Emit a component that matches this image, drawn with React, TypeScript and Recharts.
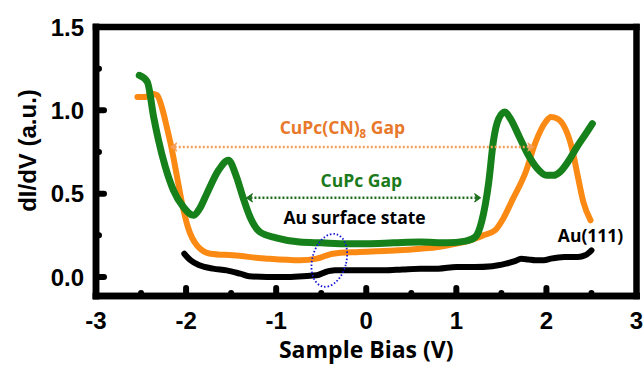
import React from 'react';
import { ComposedChart, Line, XAxis, YAxis, ReferenceLine, ReferenceDot } from 'recharts';

// ---- axes ----
const xTicks = [-3, -2.5, -2, -1.5, -1, -0.5, 0, 0.5, 1, 1.5, 2, 2.5, 3];
const xTickLabels = ['-3', '', '-2', '', '-1', '', '0', '', '1', '', '2', '', '3'];
const yTicks = [0, 0.25, 0.5, 0.75, 1, 1.25, 1.5];
const yTickLabels = ['0.0', '', '0.5', '', '1.0', '', '1.5'];

// ---- CuPc (green) ----
const cupcX = [-2.52, -2.43, -2.36, -2.31, -2.23, -2.14, -2.03, -1.92, -1.85, -1.77, -1.64, -1.53, -1.44, -1.37, -1.29, -1.18, -1.0, -0.74, -0.5, -0.2, 0.0, 0.3, 0.6, 0.9, 1.1, 1.21, 1.28, 1.36, 1.41, 1.47, 1.54, 1.6, 1.7, 1.8, 1.9, 2.0, 2.08, 2.15, 2.25, 2.35, 2.45, 2.51];
const cupcY = [1.21, 1.17, 0.96, 0.83, 0.66, 0.52, 0.42, 0.37, 0.41, 0.5, 0.64, 0.7, 0.6, 0.48, 0.36, 0.27, 0.235, 0.21, 0.205, 0.2, 0.2, 0.205, 0.21, 0.205, 0.215, 0.24, 0.33, 0.57, 0.81, 0.95, 0.99, 0.95, 0.84, 0.73, 0.65, 0.61, 0.61, 0.63, 0.7, 0.79, 0.87, 0.92];

// ---- CuPc(CN)8 (orange) ----
const cnX = [-2.54, -2.45, -2.38, -2.32, -2.27, -2.21, -2.16, -2.1, -2.04, -1.98, -1.88, -1.73, -1.48, -1.1, -0.74, -0.55, -0.37, -0.08, 0.36, 0.6, 0.8, 1.0, 1.15, 1.3, 1.43, 1.52, 1.62, 1.77, 1.88, 1.99, 2.05, 2.12, 2.2, 2.28, 2.35, 2.41, 2.49];
const cnY = [1.08, 1.08, 1.1, 1.09, 1.02, 0.89, 0.77, 0.6, 0.43, 0.3, 0.19, 0.14, 0.13, 0.11, 0.1, 0.11, 0.14, 0.15, 0.16, 0.17, 0.18, 0.2, 0.22, 0.25, 0.28, 0.35, 0.46, 0.63, 0.81, 0.93, 0.96, 0.95, 0.9, 0.78, 0.6, 0.45, 0.34];

// ---- Au(111) (black) ----
const auX = [-2.02, -1.95, -1.85, -1.7, -1.55, -1.4, -1.3, -1.1, -0.9, -0.7, -0.55, -0.45, -0.35, -0.2, 0.0, 0.2, 0.4, 0.6, 0.8, 1.0, 1.2, 1.4, 1.55, 1.65, 1.72, 1.8, 1.88, 1.97, 2.05, 2.2, 2.35, 2.43, 2.5];
const auY = [0.14, 0.1, 0.07, 0.05, 0.04, 0.02, 0.005, 0.0, 0.0, 0.005, 0.01, 0.03, 0.04, 0.04, 0.04, 0.04, 0.045, 0.05, 0.05, 0.06, 0.06, 0.065, 0.08, 0.095, 0.11, 0.105, 0.1, 0.1, 0.11, 0.12, 0.12, 0.13, 0.16];

const zip = (xs: number[], ys: number[]) => xs.map((x, i) => ({ x, y: ys[i] }));
const cupcData = zip(cupcX, cupcY);
const cnData = zip(cnX, cnY);
const auData = zip(auX, auY);

const X_DOMAIN: [number, number] = [-3, 3];
const Y_DOMAIN: [number, number] = [-0.114, 1.5];

// layout
const W = 644;
const H = 365;
const M_TOP = 27;
const M_RIGHT = 7.5;
const Y_AXIS_W = 96;
const X_AXIS_H = 69;
const FRAME_W = 6.5;
const PLOT_W = W - Y_AXIS_W - M_RIGHT;
const PLOT_H = H - M_TOP - X_AXIS_H;

const TICK_FONT = '"Liberation Sans", Arial, sans-serif';
const NOTE_FONT = '"Open Sans", "Noto Sans", sans-serif';
const AXIS_LINE = { stroke: '#000', strokeWidth: FRAME_W, strokeLinecap: 'square' as const };

const XTick = (props: any) => {
  const { x, y, payload } = props;
  const v = payload.value;
  const i = xTicks.findIndex((t) => Math.abs(t - v) < 1e-6);
  const label = i >= 0 ? xTickLabels[i] : '';
  const isLeft = Math.abs(v - X_DOMAIN[0]) < 1e-6;
  const isRight = Math.abs(v - X_DOMAIN[1]) < 1e-6;
  const major = label !== '';
  return (
    <g>
      {!isLeft && !isRight && (
        <line x1={x} x2={x} y1={y} y2={y - (major ? 8 : 3)} stroke="#000" strokeWidth={6} strokeLinecap="round" />
      )}
      {isLeft && (
        <line x1={x} x2={x + PLOT_W} y1={y} y2={y} stroke="#000" strokeWidth={FRAME_W} strokeLinecap="square" />
      )}
      {isRight && (
        <line x1={x} x2={x} y1={y} y2={y - PLOT_H} stroke="#000" strokeWidth={FRAME_W} strokeLinecap="square" />
      )}
      <text x={x} y={y + 33} textAnchor="middle" fontFamily={TICK_FONT} fontWeight={700} fontSize={24} fill="#000">
        {label}
      </text>
    </g>
  );
};

const YTick = (props: any) => {
  const { x, y, payload } = props;
  const v = payload.value;
  const i = yTicks.findIndex((t) => Math.abs(t - v) < 1e-6);
  const label = i >= 0 ? yTickLabels[i] : '';
  const isTop = Math.abs(v - Y_DOMAIN[1]) < 1e-6;
  const major = label !== '';
  return (
    <g>
      {!isTop && (
        <line x1={x} x2={x + (major ? 8 : 3)} y1={y} y2={y} stroke="#000" strokeWidth={6} strokeLinecap="round" />
      )}
      {isTop && (
        <g>
          <line x1={x} x2={x + PLOT_W} y1={y} y2={y} stroke="#000" strokeWidth={FRAME_W} strokeLinecap="square" />
          <line x1={x} x2={x} y1={y} y2={y + PLOT_H} stroke="#000" strokeWidth={FRAME_W} strokeLinecap="square" />
        </g>
      )}
      <text x={x - 12} y={y + 8.5} textAnchor="end" fontFamily={TICK_FONT} fontWeight={700} fontSize={24} fill="#000">
        {label}
      </text>
    </g>
  );
};

const arrowShape = (color: string) => (p: any) => {
  const { x1, y1, x2, y2 } = p;
  const a = 6;
  return (
    <g>
      <line x1={x1 + 4} y1={y1} x2={x2 - 4} y2={y2} stroke={color} strokeWidth={2.5} strokeDasharray="2 2" />
      <path d={`M${x1},${y1} L${x1 + a},${y1 - a * 0.7} L${x1 + a - 2},${y1} L${x1 + a},${y1 + a * 0.7} Z`} fill={color} stroke={color} strokeWidth={1} />
      <path d={`M${x2},${y2} L${x2 - a},${y2 - a * 0.7} L${x2 - a + 2},${y2} L${x2 - a},${y2 + a * 0.7} Z`} fill={color} stroke={color} strokeWidth={1} />
    </g>
  );
};

export default function App() {
  return (
    <div style={{ position: 'absolute', left: 0, top: 0, width: W, height: H, background: '#fff' }}>
      <ComposedChart width={W} height={H} margin={{ top: M_TOP, right: M_RIGHT, bottom: 0, left: 0 }}>
        <XAxis
          dataKey="x"
          type="number"
          domain={X_DOMAIN}
          ticks={xTicks}
          interval={0}
          allowDataOverflow
          height={X_AXIS_H}
          tickSize={0}
          tickMargin={0}
          tickLine={false}
          tick={<XTick />}
          axisLine={AXIS_LINE}
          label={{
            content: (lp: any) => {
              const vb = lp.viewBox || { x: Y_AXIS_W, y: M_TOP + PLOT_H, width: PLOT_W };
              return (
                <text x={vb.x + vb.width / 2} y={vb.y + 62} textAnchor="middle" fontFamily={NOTE_FONT} fontWeight={700} fontSize={23} fill="#000">
                  Sample Bias (V)
                </text>
              );
            },
          }}
        />
        <YAxis
          dataKey="y"
          type="number"
          domain={Y_DOMAIN}
          ticks={yTicks}
          interval={0}
          allowDataOverflow
          width={Y_AXIS_W}
          tickSize={0}
          tickMargin={0}
          tickLine={false}
          tick={<YTick />}
          axisLine={AXIS_LINE}
          label={{
            content: (lp: any) => {
              const vb = lp.viewBox || { x: 0, y: M_TOP, width: Y_AXIS_W, height: PLOT_H };
              const cx = vb.x + 36;
              const cy = vb.y + vb.height / 2 - 11;
              return (
                <text x={cx} y={cy} transform={`rotate(-90 ${cx} ${cy})`} textAnchor="middle" fontFamily={TICK_FONT} fontWeight={700} fontSize={24} fill="#000">
                  dI/dV (a.u.)
                </text>
              );
            },
          }}
        />

        <Line data={auData} dataKey="y" type="monotone" stroke="#000" strokeWidth={6} dot={false} isAnimationActive={false} strokeLinecap="round" strokeLinejoin="round" />
        <Line data={cnData} dataKey="y" type="monotone" stroke="#FB8A15" strokeWidth={6} dot={false} isAnimationActive={false} strokeLinecap="round" strokeLinejoin="round" />
        <Line data={cupcData} dataKey="y" type="monotone" stroke="#16801A" strokeWidth={7} dot={false} isAnimationActive={false} strokeLinecap="round" strokeLinejoin="round" />

        <ReferenceLine segment={[{ x: -2.17, y: 0.78 }, { x: 1.86, y: 0.78 }]} shape={arrowShape('#F5A05A')} />
        <ReferenceLine segment={[{ x: -1.33, y: 0.475 }, { x: 1.27, y: 0.475 }]} shape={arrowShape('#1B6E1B')} />

        <ReferenceDot
          x={-0.265}
          y={0.861}
          r={0}
          shape={(p: any) => (
            <text x={p.cx} y={p.cy} textAnchor="middle" fontFamily={NOTE_FONT} fontWeight={700} fontSize={17.5} fill="#E8782A">
              CuPc(CN)
              <tspan fontSize={11.5} dy={4}>8</tspan>
              <tspan dy={-4}> Gap</tspan>
            </text>
          )}
        />
        <ReferenceDot
          x={-0.055}
          y={0.542}
          r={0}
          shape={(p: any) => (
            <text x={p.cx} y={p.cy} textAnchor="middle" fontFamily={NOTE_FONT} fontWeight={700} fontSize={17.5} fill="#1B7A1B">
              CuPc Gap
            </text>
          )}
        />
        <ReferenceDot
          x={-0.13}
          y={0.319}
          r={0}
          shape={(p: any) => (
            <text x={p.cx} y={p.cy} textAnchor="middle" fontFamily={NOTE_FONT} fontWeight={700} fontSize={17.5} fill="#000">
              Au surface state
            </text>
          )}
        />
        <ReferenceDot
          x={2.49}
          y={0.21}
          r={0}
          shape={(p: any) => (
            <text x={p.cx} y={p.cy} textAnchor="middle" fontFamily={NOTE_FONT} fontWeight={700} fontSize={17.5} fill="#000">
              Au(111)
            </text>
          )}
        />
        <ReferenceDot
          x={-0.41}
          y={0.1}
          r={0}
          shape={(p: any) => (
            <ellipse
              cx={p.cx}
              cy={p.cy}
              rx={17}
              ry={27}
              transform={`rotate(15 ${p.cx} ${p.cy})`}
              fill="none"
              stroke="#1515D8"
              strokeWidth={1.8}
              strokeDasharray="1.5 2"
            />
          )}
        />
      </ComposedChart>
    </div>
  );
}
